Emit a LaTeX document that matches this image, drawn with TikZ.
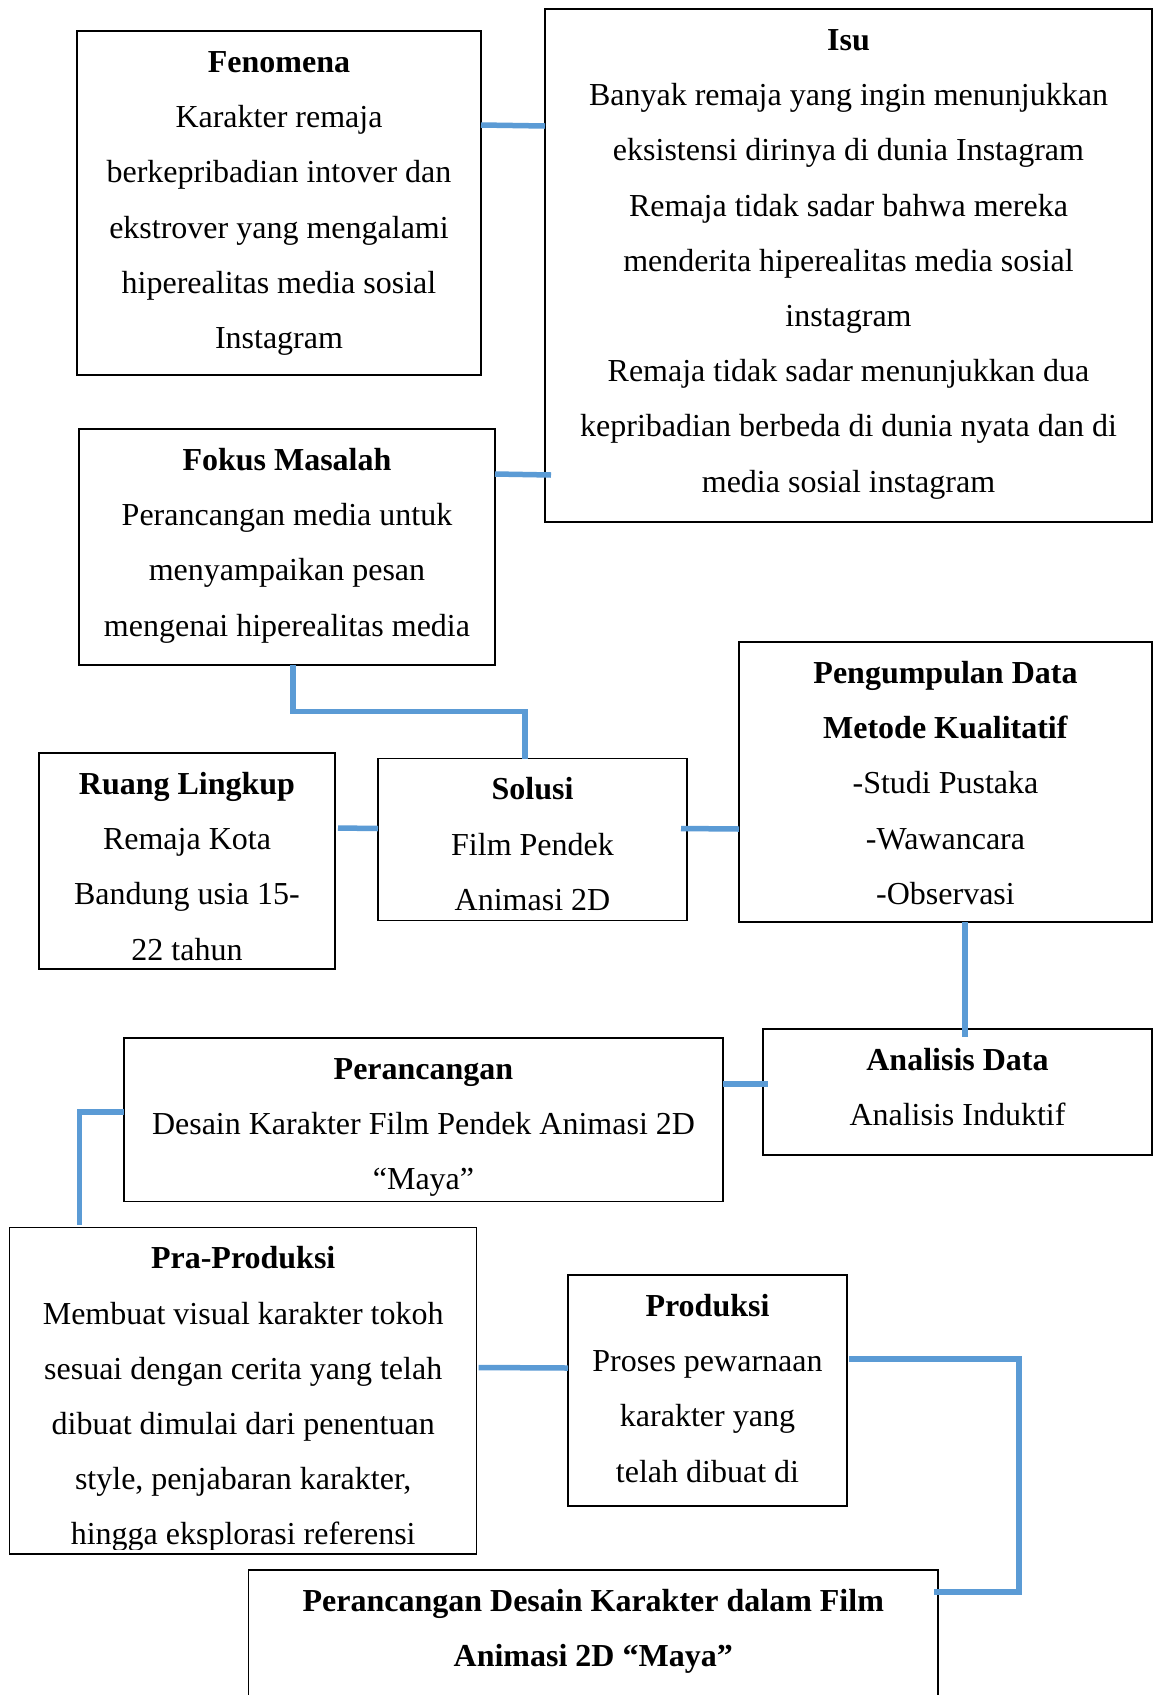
\documentclass[tikz,border=0pt]{standalone}
\usepackage{fontspec}
\setmainfont{Liberation Serif}
\usetikzlibrary{calc}
\definecolor{conncol}{HTML}{5B9BD5}
\tikzset{
  boxthin/.style={draw=black, line width=1.4pt, anchor=north west, inner sep=0pt, outer sep=0pt},
  boxthick/.style={boxthin, line width=2.4pt},
  txt/.style={anchor=north, yshift=-2.8pt, inner sep=0pt, outer sep=0pt, align=center, font=\fontsize{32}{55.2}\selectfont},
  conn/.style={draw=conncol, line width=5.5pt, line join=miter},
}
\begin{document}
\begin{tikzpicture}[x=1pt,y=-1pt]
\fill[white] (0,0) rectangle (1154,1695);
\useasboundingbox (0,0) rectangle (1154,1695);

% boxes
\node[boxthick, minimum width=404pt, minimum height=344pt] (fen) at (77,31) {};
\node[boxthick, minimum width=607pt, minimum height=513pt] (isu) at (545,9) {};
\node[boxthin, minimum width=416pt, minimum height=236pt] (fok) at (79,429) {};
\node[boxthin, minimum width=296pt, minimum height=216pt] (rl) at (39,753) {};
\node[boxthin, minimum width=309pt, minimum height=162pt] (sol) at (378,758.5) {};
\node[boxthin, minimum width=413pt, minimum height=280pt] (peng) at (739,642) {};
\node[boxthin, minimum width=389pt, minimum height=126pt] (an) at (763,1029) {};
\node[boxthin, minimum width=599pt, minimum height=163.5pt] (per) at (124,1038) {};
\node[boxthin, minimum width=467pt, minimum height=326.5pt] (pra) at (9.7,1227.5) {};
\node[boxthin, minimum width=279pt, minimum height=231pt] (pro) at (568,1275) {};
\node[boxthin, minimum width=689.5pt, minimum height=200pt] (fin) at (248.5,1570) {};

% texts
\node[txt] (fenT) at (fen.north) {\strut\textbf{Fenomena}\\Karakter remaja\\berkepribadian intover dan\\ekstrover yang mengalami\\hiperealitas media sosial\\Instagram};
\node[txt] (isuT) at (isu.north) {\strut\textbf{Isu}\\Banyak remaja yang ingin menunjukkan\\eksistensi dirinya di dunia Instagram\\Remaja tidak sadar bahwa mereka\\menderita hiperealitas media sosial\\instagram\\Remaja tidak sadar menunjukkan dua\\kepribadian berbeda di dunia nyata dan di\\media sosial instagram};
\node[txt] (fokT) at (fok.north) {\strut\textbf{Fokus Masalah}\\Perancangan media untuk\\menyampaikan pesan\\mengenai hiperealitas media};
\node[txt] (rlT) at (rl.north) {\strut\textbf{Ruang Lingkup}\\Remaja Kota\\Bandung usia 15-\\22 tahun};
\node[txt] (solT) at (sol.north) {\strut\textbf{Solusi}\\Film Pendek\\Animasi 2D};
\node[txt] (pengT) at (peng.north) {\strut\textbf{Pengumpulan Data}\\\textbf{Metode Kualitatif}\\-Studi Pustaka\\-Wawancara\\-Observasi};
\node[txt] (anT) at (an.north) {\strut\textbf{Analisis Data}\\Analisis Induktif};
\begin{scope}
  \clip (per.north west) rectangle ($(per.south east)+(0,-5)$);
  \node[txt] (perT) at (per.north) {\strut\textbf{Perancangan}\\Desain Karakter Film Pendek Animasi 2D\\“Maya”};
\end{scope}
\begin{scope}
  \clip (pra.north west) rectangle ($(pra.south east)+(0,-5)$);
  \node[txt] (praT) at (pra.north) {\strut\textbf{Pra-Produksi}\\Membuat visual karakter tokoh\\sesuai dengan cerita yang telah\\dibuat dimulai dari penentuan\\style, penjabaran karakter,\\hingga eksplorasi referensi};
\end{scope}
\node[txt] (proT) at (pro.north) {\strut\textbf{Produksi}\\Proses pewarnaan\\karakter yang\\telah dibuat di};
\node[txt] (finT) at (fin.north) {\strut\textbf{Perancangan Desain Karakter dalam Film}\\\textbf{Animasi 2D “Maya”}};

% connectors
\draw[conn] ($(fen.north east)+(0,94)$) -- ($(isu.north west)+(0,117)$);
\draw[conn] ($(fok.north east)+(0,45)$) -- ($(isu.south west)+(6,-47)$);
\draw[conn] ($(fok.south west)+(214,0)$) -- ++(0,46.5) -| ($(sol.north west)+(147,0)$);
\draw[conn] ($(rl.north east)+(3,75)$) -- ($(sol.north west)+(0,70)$);
\draw[conn] ($(sol.north east)+(-6,70)$) -- ($(peng.north west)+(0,187)$);
\draw[conn] ($(peng.south west)+(226,0)$) -- ($(an.north west)+(202,8)$);
\draw[conn] ($(per.north east)+(0,46)$) -- ($(an.north west)+(5,55)$);
\draw[conn] ($(per.north west)+(0,74)$) -| ($(pra.north west)+(70,-3)$);
\draw[conn] ($(pra.north east)+(2,140)$) -- ($(pro.north west)+(0,93)$);
\draw[conn] ($(pro.north east)+(2,84)$) -- ++(170,0) |- ($(fin.north east)+(-4,22)$);
\end{tikzpicture}
\end{document}
